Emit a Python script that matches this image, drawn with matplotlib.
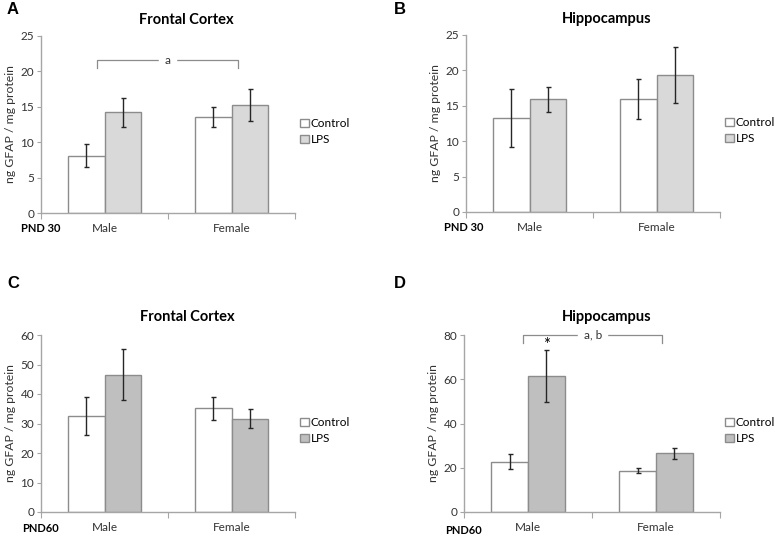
import matplotlib
matplotlib.use("Agg")
import matplotlib.pyplot as plt
from matplotlib.patches import Patch

plt.rcParams["font.family"] = ["Lato", "DejaVu Sans"]

# data
groups = ["Male", "Female"]
series = ["Control", "LPS"]

a_ctrl = [8.1, 13.6]
a_ctrl_err = [1.6, 1.4]
a_lps = [14.2, 15.3]
a_lps_err = [2.0, 2.25]

b_ctrl = [13.3, 16.0]
b_ctrl_err = [4.05, 2.85]
b_lps = [15.9, 19.3]
b_lps_err = [1.8, 3.95]

c_ctrl = [32.5, 35.1]
c_ctrl_err = [6.35, 4.05]
c_lps = [46.5, 31.6]
c_lps_err = [8.65, 3.25]

d_ctrl = [22.8, 18.7]
d_ctrl_err = [3.25, 1.15]
d_lps = [61.6, 26.5]
d_lps_err = [11.8, 2.6]

W, H = 775, 538
fig = plt.figure(figsize=(W / 100, H / 100), dpi=100)

EDGE = "#8c8c8c"
SPINE = "#a6a6a6"


def px_axes(x0, x1, ytop, ybot):
    return fig.add_axes([x0 / W, 1 - ybot / H, (x1 - x0) / W, (ybot - ytop) / H])


def panel(ax, ctrl, ctrl_err, lps, lps_err, ymax, ystep, lps_color):
    bw = 0.287
    xs = [0.5, 1.5]
    ax.bar([x - bw / 2 for x in xs], ctrl, bw, color="white", edgecolor=EDGE, lw=1.0, zorder=2)
    ax.bar([x + bw / 2 for x in xs], lps, bw, color=lps_color, edgecolor=EDGE, lw=1.0, zorder=2)
    ax.errorbar([x - bw / 2 for x in xs], ctrl, yerr=ctrl_err, fmt="none", ecolor="#262626",
                elinewidth=1.0, capsize=1.8, capthick=1.0, zorder=3)
    ax.errorbar([x + bw / 2 for x in xs], lps, yerr=lps_err, fmt="none", ecolor="#262626",
                elinewidth=1.0, capsize=1.8, capthick=1.0, zorder=3)
    ax.set_xlim(0, 2)
    ax.set_ylim(0, ymax)
    ax.set_yticks(range(0, ymax + 1, ystep))
    ax.set_xticks([0, 1, 2])
    ax.set_xticklabels([])
    ax.set_xticks(xs, minor=True)
    ax.set_xticklabels(groups, minor=True)
    ax.tick_params(axis="x", which="minor", length=0, pad=7, labelsize=8.5, colors="#333333")
    ax.tick_params(axis="x", which="major", length=4, color=SPINE)
    ax.tick_params(axis="y", length=3, color=SPINE, labelsize=8.5, labelcolor="#333333", pad=2)
    for s in ["top", "right"]:
        ax.spines[s].set_visible(False)
    for s in ["left", "bottom"]:
        ax.spines[s].set_color(SPINE)
        ax.spines[s].set_linewidth(1.0)
    ax.set_ylabel("ng GFAP / mg protein", fontsize=8.8, color="#333333", labelpad=3)
    handles = [Patch(facecolor="white", edgecolor=EDGE, label=series[0]),
               Patch(facecolor=lps_color, edgecolor=EDGE, label=series[1])]
    ax.legend(handles=handles, loc="center left", bbox_to_anchor=(1.0, 0.46), frameon=False,
              fontsize=8.5, handlelength=0.7, handleheight=0.7, handletextpad=0.2,
              labelspacing=0.45, borderaxespad=0.25, borderpad=0.2)


def bracket(ax, x0, x1, y, drop, label):
    ax.plot([x0, x0, x1, x1], [y - drop, y, y, y - drop], color="#8c8c8c", lw=0.9,
            clip_on=False, zorder=1)
    ax.text((x0 + x1) / 2, y, label, ha="center", va="center", fontsize=8.5,
            color="#333333", backgroundcolor="white", zorder=2)


axA = px_axes(41, 295, 36, 213)
panel(axA, a_ctrl, a_ctrl_err, a_lps, a_lps_err, 25, 5, "#d9d9d9")
bracket(axA, 0.44, 1.55, 21.6, 1.1, "a")

axB = px_axes(466, 720, 35, 212)
panel(axB, b_ctrl, b_ctrl_err, b_lps, b_lps_err, 25, 5, "#d9d9d9")

axC = px_axes(41, 295, 335, 512)
panel(axC, c_ctrl, c_ctrl_err, c_lps, c_lps_err, 60, 10, "#bfbfbf")

axD = px_axes(464, 720, 335, 512)
panel(axD, d_ctrl, d_ctrl_err, d_lps, d_lps_err, 80, 20, "#bfbfbf")
bracket(axD, 0.46, 1.55, 80, 3.5, "a, b")
axD.text(0.5 + 0.287 / 2, 75.5, "*", ha="center", va="center", fontsize=12)

# titles, panel letters, age labels
for x, y, t in [(186, 20, "Frontal Cortex"), (607, 19, "Hippocampus"),
                (187, 317, "Frontal Cortex"), (607, 317, "Hippocampus")]:
    fig.text(x / W, 1 - y / H, t, ha="center", va="center", fontsize=10.5, fontweight="bold")
for x, y, t in [(7, 10, "A"), (394, 10, "B"), (7, 283, "C"), (394, 283, "D")]:
    fig.text(x / W, 1 - y / H, t, ha="left", va="center", fontsize=12, fontweight="bold",
             family="Liberation Sans")
for x, y, t in [(21, 228, "PND 30"), (444, 227, "PND 30"), (22, 529, "PND60"), (445, 531, "PND60")]:
    fig.text(x / W, 1 - y / H, t, ha="left", va="center", fontsize=8, fontweight="bold")

fig.savefig("out.png", dpi=100)
